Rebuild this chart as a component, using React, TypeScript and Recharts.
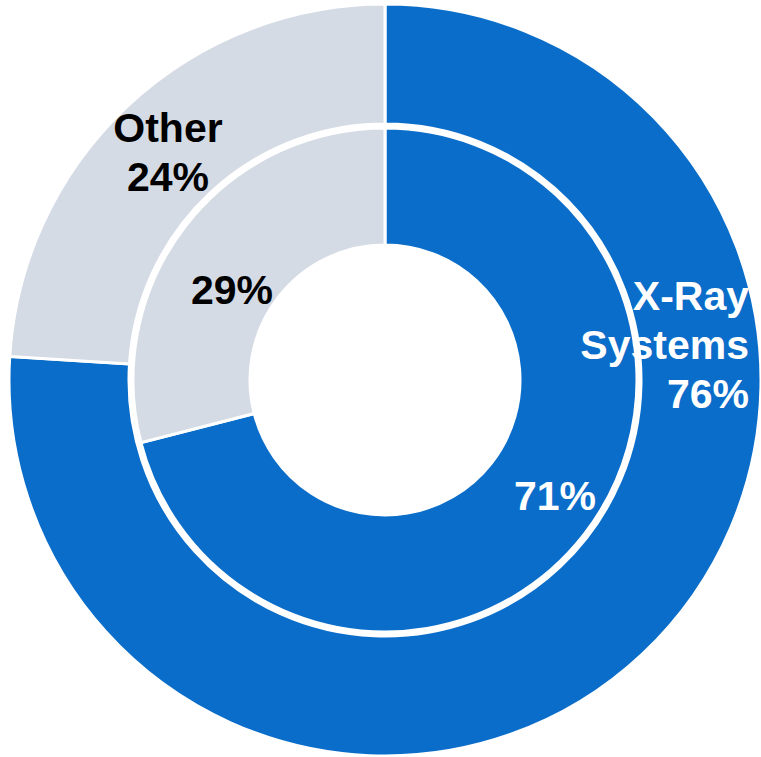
import { PieChart, Pie, Cell } from "recharts";

const outerNames = ["X-Ray Systems", "Other"];
const outerValues = [76, 24];
const innerNames = ["X-Ray Systems", "Other"];
const innerValues = [71, 29];
const colors = ["#0A6DC9", "#D5DBE5"];
const textColors = ["#FFFFFF", "#000000"];

const outerData = outerNames.map((name, i) => ({ name, value: outerValues[i] }));
const innerData = innerNames.map((name, i) => ({ name, value: innerValues[i] }));

const FONT = "'Liberation Sans', Arial, sans-serif";
const FS = 41;

// label anchor offsets from the centre, per slice
const outerLabelPos = [
  { dx: 364, dy: -70, anchor: "end", lines: ["X-Ray", "Systems", "76%"] },
  { dx: -217, dy: -238, anchor: "middle", lines: ["Other", "24%"] },
];
const innerLabelPos = [
  { dx: 170, dy: 130 },
  { dx: -153, dy: -76 },
];

function OuterLabel(props: any) {
  const { cx, cy, index } = props;
  const p = outerLabelPos[index];
  return (
    <text
      x={cx + p.dx}
      y={cy + p.dy}
      textAnchor={p.anchor}
      fill={textColors[index]}
      fontFamily={FONT}
      fontWeight="bold"
      fontSize={FS}
    >
      {p.lines.map((l, i) => (
        <tspan key={i} x={cx + p.dx} dy={i === 0 ? 0 : 49}>
          {l}
        </tspan>
      ))}
    </text>
  );
}

function InnerLabel(props: any) {
  const { cx, cy, index, value } = props;
  const p = innerLabelPos[index];
  return (
    <text
      x={cx + p.dx}
      y={cy + p.dy}
      textAnchor="middle"
      fill={textColors[index]}
      fontFamily={FONT}
      fontWeight="bold"
      fontSize={FS}
    >
      {`${value}%`}
    </text>
  );
}

export default function App() {
  return (
    <div style={{ width: 761, height: 757 }}>
      <style>{`body{margin:0;background:#fff}`}</style>
      <PieChart width={761} height={757} margin={{ top: 0, right: 0, bottom: 0, left: 0 }}>
        <Pie
          data={outerData}
          dataKey="value"
          cx={385}
          cy={380}
          innerRadius={256}
          outerRadius={376}
          startAngle={90}
          endAngle={-270}
          stroke="#fff"
          strokeWidth={3}
          label={OuterLabel}
          labelLine={false}
          isAnimationActive={false}
        >
          {outerData.map((e, i) => (
            <Cell key={`o-${i}`} fill={colors[i]} />
          ))}
        </Pie>
        <Pie
          data={innerData}
          dataKey="value"
          cx={385}
          cy={380}
          innerRadius={135}
          outerRadius={252}
          startAngle={90}
          endAngle={-270}
          stroke="#fff"
          strokeWidth={3}
          label={InnerLabel}
          labelLine={false}
          isAnimationActive={false}
        >
          {innerData.map((e, i) => (
            <Cell key={`i-${i}`} fill={colors[i]} />
          ))}
        </Pie>
      </PieChart>
    </div>
  );
}
